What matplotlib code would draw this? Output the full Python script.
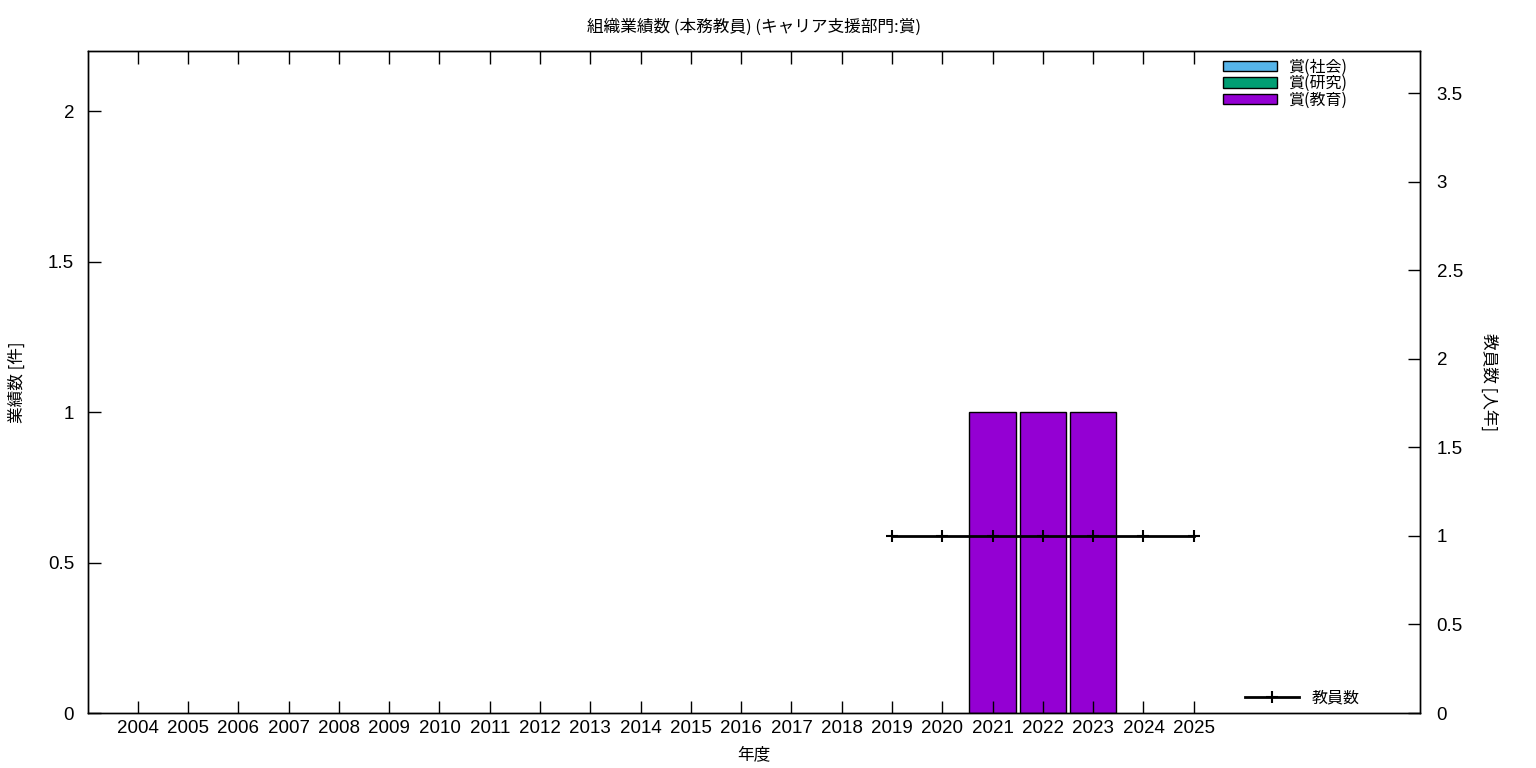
import matplotlib
matplotlib.use("Agg")
import matplotlib.pyplot as plt
from matplotlib.patches import Patch
import numpy as np

plt.rcParams['font.family'] = ['Noto Sans CJK JP', 'DejaVu Sans']

years = [str(y) for y in range(2004, 2026)]
award_social = [0]*17 + [0, 0, 0, 0, 0]
award_research = [0]*17 + [0, 0, 0, 0, 0]
award_education = [0]*17 + [1, 1, 1, 0, 0]
staff_years = years[15:]
staff = [1, 1, 1, 1, 1, 1, 1]

series = [('賞(社会)', award_social, '#56b4e9'),
          ('賞(研究)', award_research, '#009e73'),
          ('賞(教育)', award_education, '#9400d3')]

x = np.arange(len(years))
w = 0.92
num_font = ['Liberation Sans', 'DejaVu Sans']

fig = plt.figure(figsize=(15.36, 7.68), dpi=100)
ax = fig.add_axes([88/1536, 55/768, 1332/1536, 662/768])
ax2 = ax.twinx()

bottom = np.zeros(len(years))
handles = []
for name, vals, col in series:
    v = np.array(vals, dtype=float)
    bars = ax.bar(x, v, w, bottom=bottom, color=col, edgecolor='black', linewidth=1)
    for p in bars.patches:
        if p.get_height() == 0:
            p.set_visible(False)
    handles.append(Patch(facecolor=col, edgecolor='black', linewidth=1, label=name))
    bottom += v

xs = [years.index(y) for y in staff_years]
line, = ax2.plot(xs, staff, color='black', linewidth=2, marker='+', markersize=9,
                 markeredgewidth=1.5, label='教員数')

ax.set_xlim(-0.99, 25.5)
ax.set_ylim(0, 2.2)
ax2.set_ylim(0, 3.74)
ax.set_xticks(x)
ax.set_xticklabels(years, family=num_font, fontsize=13.5)
ax.set_yticks([0, 0.5, 1, 1.5, 2])
ax.set_yticklabels(['0', '0.5', '1', '1.5', '2'], family=num_font, fontsize=13.5)
ax2.set_yticks([0, 0.5, 1, 1.5, 2, 2.5, 3, 3.5])
ax2.set_yticklabels(['0', '0.5', '1', '1.5', '2', '2.5', '3', '3.5'],
                    family=num_font, fontsize=13.5)

ax.tick_params(axis='x', direction='in', length=9, width=1, top=True, pad=5)
ax.tick_params(axis='y', direction='in', length=9, width=1, pad=10)
ax2.tick_params(axis='y', direction='in', length=9, width=1, pad=12)
for a in (ax, ax2):
    for sp in a.spines.values():
        sp.set_linewidth(1)

ax.set_xlabel('年度', fontsize=12, labelpad=7)
ax.set_ylabel('業績数 [件]', fontsize=12, labelpad=16)
ax2.set_ylabel('教員数 [人年]', fontsize=12, rotation=-90, labelpad=25)
ax.set_title('組織業績数 (本務教員) (キャリア支援部門:賞)', fontsize=12, pad=14)

leg = ax.legend(handles=handles, loc='upper left', bbox_to_anchor=(1223/1536, 1-59/768),
                bbox_transform=fig.transFigure, frameon=False, fontsize=11.5,
                handlelength=3.4, handleheight=0.6, labelspacing=-0.05,
                handletextpad=0.7, borderpad=0, borderaxespad=0)
ax2.legend(handles=[line], loc='center left', bbox_to_anchor=(1245/1536, 1-698/768),
           bbox_transform=fig.transFigure, frameon=False, fontsize=11.5,
           handlelength=3.4, handletextpad=0.8, borderpad=0, borderaxespad=0)

fig.savefig('out.png', dpi=100)
